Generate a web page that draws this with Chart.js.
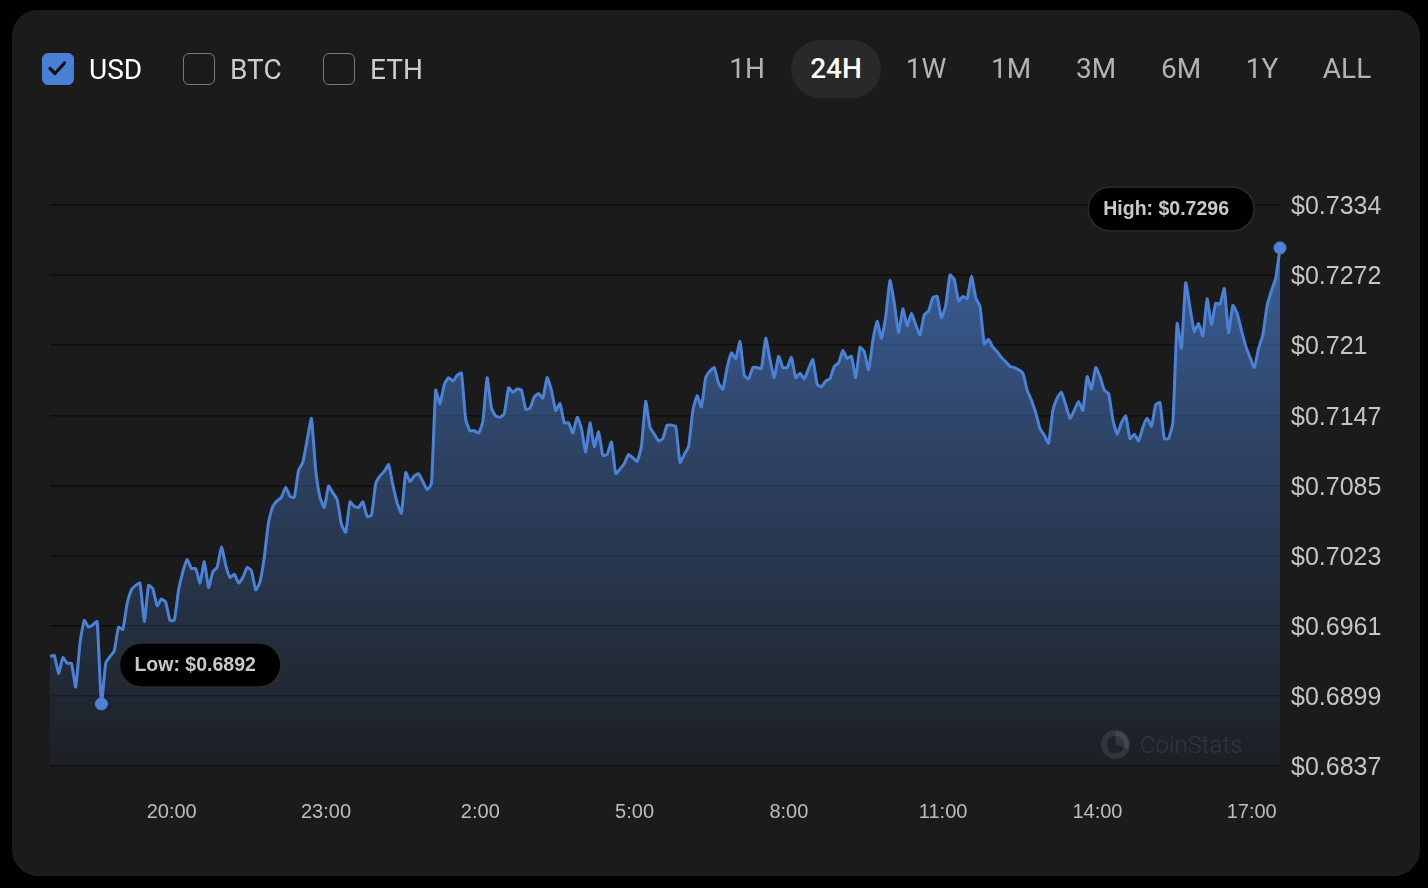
<!DOCTYPE html>
<html>
<head>
<meta charset="utf-8">
<script src="https://cdn.jsdelivr.net/npm/chart.js@4.4.1/dist/chart.umd.min.js"></script>
<style>
  html, body { margin: 0; padding: 0; background: #000; }
  body { width: 1428px; height: 888px; position: relative; overflow: hidden; font-family: Roboto, "Noto Sans", sans-serif; }
  .card { position: absolute; left: 12px; top: 10px; width: 1408px; height: 866px; background: #1b1b1b; border-radius: 26px; }
  #chart { position: absolute; left: 0; top: 0; }
  .currency { position: absolute; top: 53px; height: 32px; display: flex; align-items: center; font-size: 28px; color: #cdcdcd; }
  .currency.on { color: #fff; }
  .box { width: 32px; height: 32px; box-sizing: border-box; border: 1.5px solid #7a7a7a; border-radius: 6px; margin-right: 15px; }
  .currency.on .box { background: #4a7fd6; border-color: #4a7fd6; }
  .box svg { display: block; }
  .tf { position: absolute; top: 40px; height: 58px; line-height: 58px; font-size: 28px; color: #b3b3b3; transform: translateX(-50%); }
  .tf.on { color: #fff; font-weight: 500; background: #292929; border-radius: 29px; width: 90px; text-align: center; }
  .mark { position: absolute; left: 1100px; top: 729px; display: flex; align-items: center; color: rgba(255,255,255,0.09); font-size: 24px; font-weight: 300; }
  .mark svg { margin-right: 9px; }
</style>
</head>
<body>
<div class="card"></div>
<canvas id="chart" width="1428" height="888"></canvas>

<div class="currency on" style="left:42px"><div class="box"><svg width="29" height="29" viewBox="0 0 29 29"><path d="M7 14.5 L12 19.5 L21.5 9" fill="none" stroke="#111" stroke-width="3.2" stroke-linecap="round" stroke-linejoin="round"/></svg></div>USD</div>
<div class="currency" style="left:183px"><div class="box"></div>BTC</div>
<div class="currency" style="left:323px"><div class="box"></div>ETH</div>

<div class="tf" style="left:747px">1H</div>
<div class="tf on" style="left:836px">24H</div>
<div class="tf" style="left:926px">1W</div>
<div class="tf" style="left:1011px">1M</div>
<div class="tf" style="left:1096px">3M</div>
<div class="tf" style="left:1181px">6M</div>
<div class="tf" style="left:1262px">1Y</div>
<div class="tf" style="left:1347px">ALL</div>

<div class="mark">
  <svg width="31" height="31" viewBox="0 0 32 32">
    <circle cx="16" cy="16" r="12" fill="none" stroke="rgba(255,255,255,0.09)" stroke-width="6"/>
    <path d="M16 16 L16 2 A14 14 0 0 1 29 20 Z" fill="rgba(255,255,255,0.09)"/>
  </svg>
  CoinStats
</div>

<script>
// 24h price samples, 5 minutes apart, starting 17:38
const startTime = '17:38';
const stepMinutes = 5;
const prices = [
  0.6934, 0.6935, 0.6919, 0.6933, 0.6928, 0.6928, 0.6907, 0.6946, 0.6966, 0.6960, 0.6962, 0.6965,
  0.6892, 0.6928, 0.6934, 0.6939, 0.6960, 0.6958, 0.6981, 0.6993, 0.6997, 0.6999, 0.6965, 0.6997,
  0.6994, 0.6979, 0.6985, 0.6982, 0.6966, 0.6966, 0.6993, 0.7009, 0.7020, 0.7012, 0.7012, 0.6999,
  0.7018, 0.6995, 0.7009, 0.7013, 0.7031, 0.7015, 0.7004, 0.7007, 0.6999, 0.7004, 0.7013, 0.7010,
  0.6993, 0.7000, 0.7022, 0.7053, 0.7067, 0.7072, 0.7075, 0.7084, 0.7076, 0.7075, 0.7099, 0.7106,
  0.7126, 0.7145, 0.7099, 0.7075, 0.7066, 0.7085, 0.7079, 0.7073, 0.7051, 0.7044, 0.7071, 0.7067,
  0.7066, 0.7071, 0.7058, 0.7059, 0.7087, 0.7094, 0.7098, 0.7104, 0.7086, 0.7070, 0.7061, 0.7097,
  0.7089, 0.7094, 0.7096, 0.7089, 0.7082, 0.7087, 0.7170, 0.7158, 0.7175, 0.7181, 0.7178, 0.7183,
  0.7185, 0.7144, 0.7134, 0.7134, 0.7132, 0.7142, 0.7181, 0.7154, 0.7147, 0.7146, 0.7149, 0.7172,
  0.7168, 0.7171, 0.7170, 0.7153, 0.7154, 0.7164, 0.7167, 0.7163, 0.7181, 0.7170, 0.7152, 0.7158,
  0.7141, 0.7141, 0.7132, 0.7146, 0.7136, 0.7115, 0.7141, 0.7120, 0.7133, 0.7112, 0.7113, 0.7124,
  0.7096, 0.7100, 0.7105, 0.7113, 0.7110, 0.7107, 0.7120, 0.7160, 0.7137, 0.7131, 0.7125, 0.7127,
  0.7139, 0.7139, 0.7138, 0.7106, 0.7113, 0.7120, 0.7152, 0.7165, 0.7155, 0.7181, 0.7187, 0.7190,
  0.7176, 0.7171, 0.7190, 0.7203, 0.7198, 0.7213, 0.7183, 0.7180, 0.7190, 0.7190, 0.7189, 0.7216,
  0.7197, 0.7181, 0.7200, 0.7190, 0.7190, 0.7199, 0.7181, 0.7185, 0.7180, 0.7189, 0.7197, 0.7175,
  0.7173, 0.7178, 0.7180, 0.7191, 0.7194, 0.7205, 0.7198, 0.7200, 0.7181, 0.7208, 0.7204, 0.7188,
  0.7214, 0.7231, 0.7216, 0.7235, 0.7267, 0.7247, 0.7221, 0.7242, 0.7227, 0.7238, 0.7228, 0.7219,
  0.7237, 0.7240, 0.7252, 0.7253, 0.7234, 0.7245, 0.7272, 0.7268, 0.7249, 0.7253, 0.7251, 0.7271,
  0.7252, 0.7244, 0.7211, 0.7215, 0.7208, 0.7204, 0.7199, 0.7195, 0.7191, 0.7190, 0.7188, 0.7185,
  0.7170, 0.7161, 0.7150, 0.7136, 0.7130, 0.7123, 0.7152, 0.7163, 0.7168, 0.7157, 0.7145, 0.7152,
  0.7160, 0.7152, 0.7182, 0.7171, 0.7190, 0.7182, 0.7170, 0.7167, 0.7144, 0.7131, 0.7141, 0.7147,
  0.7127, 0.7131, 0.7125, 0.7137, 0.7145, 0.7138, 0.7157, 0.7159, 0.7127, 0.7127, 0.7141, 0.7229,
  0.7207, 0.7265, 0.7243, 0.7222, 0.7229, 0.7218, 0.7251, 0.7228, 0.7247, 0.7246, 0.7260, 0.7221,
  0.7245, 0.7238, 0.7223, 0.7209, 0.7199, 0.7190, 0.7207, 0.7219, 0.7245, 0.7258, 0.7269, 0.7296
];
const xTickLabels = ['20:00', '23:00', '2:00', '5:00', '8:00', '11:00', '14:00', '17:00'];
const yTickLabels = ['$0.6837', '$0.6899', '$0.6961', '$0.7023', '$0.7085', '$0.7147', '$0.721', '$0.7272', '$0.7334'];

const LINE = '#4b82d8';
const AXIS_FONT = '"Liberation Sans", Arial, Helvetica, sans-serif';

function toMinutes(t) {
  const [h, m] = t.split(':').map(Number);
  return h * 60 + m;
}

const startMin = toMinutes(startTime);
const xTickValues = xTickLabels.map(t => (toMinutes(t) - startMin + 1440) % 1440);
const yTickValues = yTickLabels.map(t => parseFloat(t.slice(1)));

const lowIndex = prices.indexOf(Math.min(...prices));
const highIndex = prices.indexOf(Math.max(...prices));
const points = prices.map((p, i) => ({ x: i * stepMinutes, y: p }));

/**
 * Draw a black rounded pill with a label
 */
function drawPill(c, text, x, y, anchor) {
  c.save();
  c.font = 'bold 19.5px ' + AXIS_FONT;
  const w = c.measureText(text).width + 40;
  const h = 44;
  const left = anchor === 'left' ? x : x - w;
  c.beginPath();
  c.roundRect(left, y - h / 2, w, h, h / 2);
  c.fillStyle = '#000';
  c.fill();
  c.lineWidth = 1.5;
  c.strokeStyle = '#2c2c2c';
  c.stroke();
  c.fillStyle = '#c9c9c9';
  c.textAlign = 'left';
  c.textBaseline = 'middle';
  c.fillText(text, left + 15, y + 1);
  c.restore();
}

// Low / High labels next to the extreme points
const extremesPlugin = {
  id: 'extremes',
  afterDatasetsDraw(chart) {
    const meta = chart.getDatasetMeta(0);
    const lo = meta.data[lowIndex];
    const hi = meta.data[highIndex];
    drawPill(chart.ctx, 'Low: $' + prices[lowIndex].toFixed(4), lo.x + 18, lo.y - 39, 'left');
    drawPill(chart.ctx, 'High: $' + prices[highIndex].toFixed(4), hi.x - 26, hi.y - 39, 'right');
  }
};

function fillGradient(ctx) {
  const { chart } = ctx;
  const area = chart.chartArea;
  if (!area) return 'transparent';
  const g = chart.ctx.createLinearGradient(0, area.top, 0, area.bottom);
  g.addColorStop(0, 'rgba(75,130,216,0.72)');
  g.addColorStop(0.45, 'rgba(75,130,216,0.38)');
  g.addColorStop(1, 'rgba(75,130,216,0.05)');
  return g;
}

new Chart(document.getElementById('chart'), {
  type: 'line',
  data: {
    datasets: [{
      data: points,
      borderColor: LINE,
      borderWidth: 3,
      tension: 0.15,
      fill: 'start',
      backgroundColor: fillGradient,
      pointRadius: ctx => (ctx.dataIndex === lowIndex || ctx.dataIndex === highIndex) ? 6 : 0,
      pointBackgroundColor: LINE,
      pointBorderColor: LINE,
      pointBorderWidth: 1,
      clip: false,
    }]
  },
  options: {
    responsive: false,
    animation: false,
    events: [],
    layout: { padding: { left: 50, top: 205, right: 0, bottom: 0 } },
    plugins: { legend: { display: false }, tooltip: { enabled: false } },
    scales: {
      x: {
        type: 'linear',
        min: 0,
        max: (prices.length - 1) * stepMinutes,
        grid: { display: false },
        border: { display: false },
        afterBuildTicks: scale => { scale.ticks = xTickValues.map(v => ({ value: v })); },
        afterFit: scale => { scale.height = 122; },
        ticks: {
          autoSkip: false,
          maxRotation: 0,
          padding: 26,
          color: '#bdbdbd',
          font: { family: AXIS_FONT, size: 20 },
          callback: v => xTickLabels[xTickValues.indexOf(v)],
        },
      },
      y: {
        position: 'right',
        min: yTickValues[0],
        max: yTickValues[yTickValues.length - 1],
        grid: { color: 'rgba(0,0,0,0.5)', lineWidth: 1.5, drawTicks: false },
        border: { display: false },
        afterBuildTicks: scale => { scale.ticks = yTickValues.map(v => ({ value: v })); },
        afterFit: scale => { scale.width = 148; },
        ticks: {
          padding: 11,
          labelOffset: 2,
          color: '#c5c5c5',
          font: { family: AXIS_FONT, size: 25 },
          callback: v => yTickLabels[yTickValues.indexOf(v)],
        },
      },
    },
  },
  plugins: [extremesPlugin],
});
</script>
</body>
</html>
